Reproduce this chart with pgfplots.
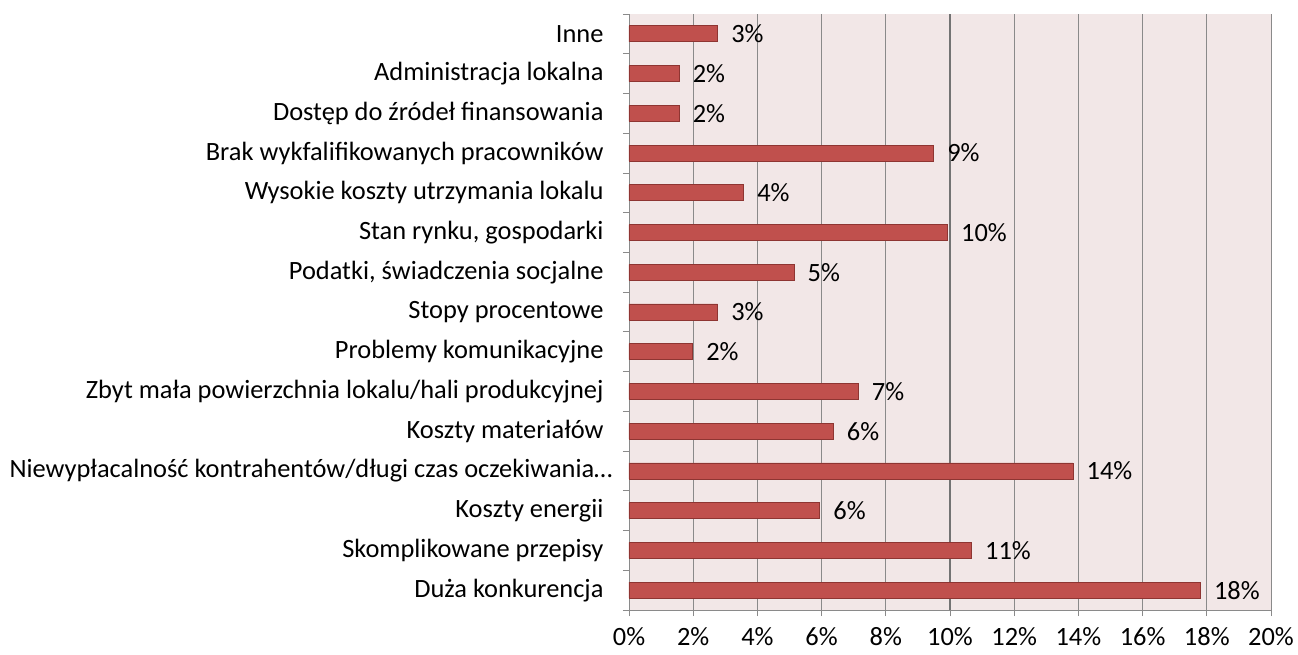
\documentclass[border=0pt]{standalone}
\usepackage{pgfplots}
\pgfplotsset{compat=1.18}
\usepackage{fontspec}
\setmainfont{Carlito}

\definecolor{barred}{HTML}{C0504D}
\definecolor{baredge}{HTML}{8E3532}
\definecolor{plotbg}{HTML}{F2E7E7}
\definecolor{gridgray}{HTML}{8A8A8A}

\begin{document}
\begin{tikzpicture}
\path[use as bounding box] (-629bp,-45bp) rectangle (669bp,610bp);
\begin{axis}[
    at={(0,0)}, anchor=south west,
    scale only axis,
    width=642bp, height=596bp,
    xbar, bar width=16bp, bar shift=0pt,
    xmin=0, xmax=20,
    ymin=-0.5, ymax=14.5,
    axis x line*=bottom, axis y line*=left,
    axis line style={gridgray, line width=0.8pt},
    axis background/.style={fill=plotbg},
    xtick={0,2,...,20},
    xticklabel={\pgfmathprintnumber{\tick}\%},
    /pgf/number format/assume math mode=true,
    xmajorgrids, grid style={gridgray, line width=0.8pt},
    tick align=outside,
    x tick style={gridgray, line width=0.8pt},
    major tick length=6bp,
    ytick={0,...,14},
    y tick style={draw=none},
    yticklabels={Duża konkurencja, Skomplikowane przepisy, Koszty energii,
      {Niewypłacalność kontrahentów/długi czas oczekiwania…\hspace*{-9bp}},
      Koszty materiałów, Zbyt mała powierzchnia lokalu/hali produkcyjnej,
      Problemy komunikacyjne, Stopy procentowe, {Podatki, świadczenia socjalne},
      {Stan rynku, gospodarki}, Wysokie koszty utrzymania lokalu,
      Brak wykfalifikowanych pracowników, Dostęp do źródeł finansowania,
      Administracja lokalna, Inne},
    extra y ticks={-0.5,0.5,...,14.5},
    extra y tick labels={},
    extra y tick style={y tick style={draw=gridgray, line width=0.8pt}, ymajorgrids=false},
    extra x ticks={10},
    extra x tick labels={},
    extra x tick style={grid style={black!55, line width=1.2pt}},
    ticklabel style={font=\fontsize{26.5}{30}\selectfont, text=black},
    yticklabel style={xshift=-16bp},
    xticklabel style={yshift=-8bp},
    nodes near coords={\pgfmathprintnumber[fixed,precision=0]{\pgfplotspointmeta}\%},
    nodes near coords align={horizontal},
    every node near coord/.append style={font=\fontsize{26.5}{30}\selectfont, text=black, xshift=10bp},
    clip=false,
]
\addplot[fill=barred, draw=baredge, line width=0.8pt] coordinates {
(17.8,0) (10.67,1) (5.94,2) (13.83,3) (6.36,4) (7.14,5) (1.98,6) (2.76,7)
(5.14,8) (9.92,9) (3.57,10) (9.49,11) (1.56,12) (1.56,13) (2.76,14)
};
\end{axis}
\end{tikzpicture}
\end{document}
